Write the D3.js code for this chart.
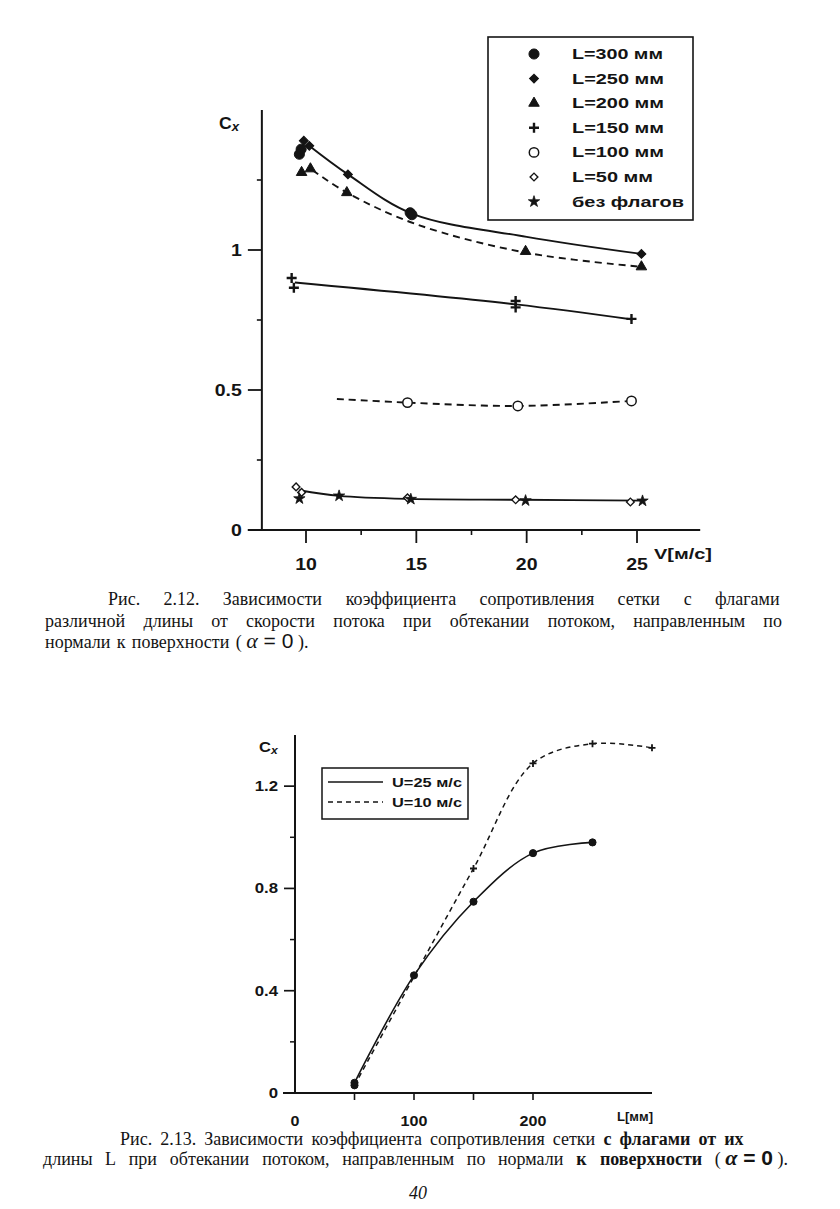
<!DOCTYPE html>
<html><head><meta charset="utf-8">
<script src="https://cdn.jsdelivr.net/npm/d3@7"></script>
<style>html,body{margin:0;padding:0;background:#fff;}svg{display:block;}</style>
</head><body>
<script>
// ---------- data: Fig 2.12 (Cx vs V) ----------
const V_TICKS = [10, 15, 20, 25];
const V_TICK_LABELS = ["10", "15", "20", "25"];
const V_MINOR = [12.5, 17.5, 22.5];
const CX_TICKS = [0, 0.5, 1];
const CX_TICK_LABELS = ["0", "0.5", "1"];
const CX_MINOR = [0.25, 0.75, 1.25];
const LEGEND1 = ["L=300 мм", "L=250 мм", "L=200 мм", "L=150 мм", "L=100 мм", "L=50 мм", "без флагов"];
const L300 = [[9.7, 1.342], [9.78, 1.36], [14.72, 1.133], [14.8, 1.126]];
const L250 = [[9.9, 1.39], [10.15, 1.372], [11.9, 1.27], [25.2, 0.986]];
const L200 = [[9.8, 1.277], [10.2, 1.29], [11.85, 1.205], [19.95, 0.995], [25.2, 0.94]];
const L150 = [[9.35, 0.9], [9.45, 0.865], [19.5, 0.818], [19.5, 0.795], [24.75, 0.754]];
const L100 = [[14.6, 0.455], [19.6, 0.443], [24.75, 0.461]];
const L50 = [[9.55, 0.154], [9.8, 0.134], [14.6, 0.115], [19.5, 0.108], [24.7, 0.1]];
const NOFLAG = [[9.7, 0.112], [11.5, 0.122], [14.75, 0.11], [19.95, 0.105], [25.25, 0.104]];
const CURVE_A = [[10.1, 1.375], [11.9, 1.27], [14.8, 1.13], [20, 1.047], [25.2, 0.986]];
const CURVE_B = [[10.3, 1.285], [11.85, 1.205], [15, 1.092], [20, 0.99], [25.2, 0.94]];
const CURVE_C = [[9.5, 0.884], [19.5, 0.806], [24.8, 0.752]];
const CURVE_D = [[11.4, 0.468], [14.6, 0.455], [19.6, 0.443], [24.75, 0.461]];
const CURVE_E = [[9.7, 0.142], [11.5, 0.122], [14.7, 0.111], [19.7, 0.108], [25.3, 0.105]];

// ---------- data: Fig 2.13 (Cx vs L) ----------
const L_MM = [50, 100, 150, 200, 250, 300];
const U25 = [0.04, 0.46, 0.748, 0.938, 0.98];
const U10 = [0.03, 0.455, 0.878, 1.289, 1.366, 1.35];
const LX_TICKS = [0, 100, 200];
const LX_TICK_LABELS = ["0", "100", "200"];
const LX_ALL_TICKS = [50, 100, 150, 200];
const CY_TICKS = [0, 0.4, 0.8, 1.2];
const CY_TICK_LABELS = ["0", "0.4", "0.8", "1.2"];
const CY_MINOR = [0.2, 0.6, 1.0];
const LEGEND2 = ["U=25 м/с", "U=10 м/с"];

const SANS = "'Liberation Sans', Arial, Helvetica, sans-serif";
const SERIF = "'Liberation Serif', 'Times New Roman', serif";
const INK = "#141414";

const svg = d3.select("body").append("svg").attr("width", 840).attr("height", 1209);
svg.append("rect").attr("width", 840).attr("height", 1209).attr("fill", "#fff");

function stxt(g, x, y, str, size, anchor, sx, width) {
  const t = g.append("text")
    .attr("transform", `translate(${x},${y}) scale(${sx},1)`)
    .attr("text-anchor", anchor)
    .attr("font-family", SANS).attr("font-weight", "bold")
    .attr("font-size", size).attr("fill", INK).text(str);
  if (width) t.attr("textLength", width / sx).attr("lengthAdjust", "spacingAndGlyphs");
  return t;
}

function sym(g, type, size, cx, cy, filled, sw, rot) {
  return g.append("path")
    .attr("d", d3.symbol().type(type).size(size)())
    .attr("transform", `translate(${cx},${cy}) rotate(${rot || 0})`)
    .attr("fill", filled ? INK : "#fff")
    .attr("stroke", INK).attr("stroke-width", sw || 1.3);
}
function diamond(g, size, cx, cy, filled, sw) { return sym(g, d3.symbolSquare, size, cx, cy, filled, sw, 45); }
function plus(g, cx, cy, half, sw) {
  g.append("path").attr("d", `M${cx - half},${cy}H${cx + half}M${cx},${cy - half}V${cy + half}`)
    .attr("stroke", INK).attr("stroke-width", sw).attr("fill", "none");
}

// =============== Chart 1 ===============
const g1 = svg.append("g");
const x1 = d3.scaleLinear().domain([10, 25]).range([306, 637]);
const y1 = d3.scaleLinear().domain([0, 1.5]).range([530, 110]);

g1.append("line").attr("x1", x1(8)).attr("x2", x1(8)).attr("y1", y1(1.5)).attr("y2", y1(0))
  .attr("stroke", INK).attr("stroke-width", 2);
g1.append("line").attr("x1", x1(8) - 14).attr("x2", x1(28) - 3).attr("y1", y1(0)).attr("y2", y1(0))
  .attr("stroke", INK).attr("stroke-width", 2);
CX_TICKS.forEach((v, i) => {
  g1.append("line").attr("x1", x1(8) - 14).attr("x2", x1(8)).attr("y1", y1(v)).attr("y2", y1(v))
    .attr("stroke", INK).attr("stroke-width", 1.8);
  stxt(g1, x1(8) - 20, y1(v) + 6, CX_TICK_LABELS[i], 16, "end", 1.22);
});
CX_MINOR.forEach(v => {
  g1.append("line").attr("x1", x1(8) - 5).attr("x2", x1(8)).attr("y1", y1(v)).attr("y2", y1(v))
    .attr("stroke", INK).attr("stroke-width", 1.6);
});
V_TICKS.forEach((v, i) => {
  g1.append("line").attr("x1", x1(v)).attr("x2", x1(v)).attr("y1", y1(0)).attr("y2", y1(0) + 13)
    .attr("stroke", INK).attr("stroke-width", 1.8);
  stxt(g1, x1(v), 570, V_TICK_LABELS[i], 16, "middle", 1.22);
});
V_MINOR.forEach(v => {
  g1.append("line").attr("x1", x1(v)).attr("x2", x1(v)).attr("y1", y1(0)).attr("y2", y1(0) + 5)
    .attr("stroke", INK).attr("stroke-width", 1.6);
});
stxt(g1, 654, 559, "V[м/с]", 14, "start", 1, 58);
const cx1 = g1.append("text").attr("transform", "translate(219,129) scale(1.1,1)")
  .attr("font-family", SANS).attr("font-weight", "bold").attr("font-size", 16).attr("fill", INK);
cx1.append("tspan").text("C");
cx1.append("tspan").attr("font-size", 12).attr("font-style", "italic").attr("dy", 2).text("x");

const line1 = d3.line().x(d => x1(d[0])).y(d => y1(d[1])).curve(d3.curveCatmullRom.alpha(0.5));
[[CURVE_A, null], [CURVE_B, "7,5"], [CURVE_C, null], [CURVE_D, "7,5"], [CURVE_E, null]].forEach(([data, dash]) => {
  g1.append("path").attr("d", line1(data)).attr("fill", "none").attr("stroke", INK)
    .attr("stroke-width", 1.9).attr("stroke-dasharray", dash);
});

L300.forEach(d => sym(g1, d3.symbolCircle, 80, x1(d[0]), y1(d[1]), true, 1));
L250.forEach(d => diamond(g1, 40, x1(d[0]), y1(d[1]), true, 1));
L200.forEach(d => sym(g1, d3.symbolTriangle, 48, x1(d[0]), y1(d[1]), true, 1));
L150.forEach(d => plus(g1, x1(d[0]), y1(d[1]), 5, 2.4));
L100.forEach(d => sym(g1, d3.symbolCircle, 70, x1(d[0]), y1(d[1]), false, 1.5));
L50.forEach(d => diamond(g1, 30, x1(d[0]), y1(d[1]), false, 1.4));
NOFLAG.forEach(d => sym(g1, d3.symbolStar, 40, x1(d[0]), y1(d[1]), true, 0.8));

// legend 1
g1.append("rect").attr("x", 488).attr("y", 37).attr("width", 205).attr("height", 183)
  .attr("fill", "#fff").attr("stroke", INK).attr("stroke-width", 1.6);
const LEG1_W = [91, 92, 92, 92, 92, 81, 112];
LEGEND1.forEach((lab, i) => {
  const cy = 54 + i * 24.6, cx = 534;
  if (i === 0) sym(g1, d3.symbolCircle, 80, cx, cy, true, 1);
  if (i === 1) diamond(g1, 40, cx, cy, true, 1);
  if (i === 2) sym(g1, d3.symbolTriangle, 48, cx, cy, true, 1);
  if (i === 3) plus(g1, cx, cy, 5, 2.4);
  if (i === 4) sym(g1, d3.symbolCircle, 70, cx, cy, false, 1.5);
  if (i === 5) diamond(g1, 30, cx, cy, false, 1.4);
  if (i === 6) sym(g1, d3.symbolStar, 40, cx, cy, true, 0.8);
  stxt(g1, 572, cy + 5, lab, 14, "start", 1, LEG1_W[i]);
});

// =============== Chart 2 ===============
const g2 = svg.append("g");
const x2 = d3.scaleLinear().domain([0, 300]).range([295, 652]);
const y2 = d3.scaleLinear().domain([0, 1.4]).range([1093, 735]);

g2.append("line").attr("x1", x2(0)).attr("x2", x2(0)).attr("y1", y2(1.4)).attr("y2", y2(0))
  .attr("stroke", INK).attr("stroke-width", 2);
g2.append("line").attr("x1", x2(0) - 12).attr("x2", x2(300)).attr("y1", y2(0)).attr("y2", y2(0))
  .attr("stroke", INK).attr("stroke-width", 2);
CY_TICKS.forEach((v, i) => {
  g2.append("line").attr("x1", x2(0) - 11).attr("x2", x2(0)).attr("y1", y2(v)).attr("y2", y2(v))
    .attr("stroke", INK).attr("stroke-width", 1.7);
  stxt(g2, x2(0) - 17, y2(v) + 5, CY_TICK_LABELS[i], 14, "end", 1.2);
});
CY_MINOR.forEach(v => {
  g2.append("line").attr("x1", x2(0) - 5).attr("x2", x2(0)).attr("y1", y2(v)).attr("y2", y2(v))
    .attr("stroke", INK).attr("stroke-width", 1.5);
});
LX_ALL_TICKS.forEach(v => {
  g2.append("line").attr("x1", x2(v)).attr("x2", x2(v)).attr("y1", y2(0)).attr("y2", y2(0) + 7)
    .attr("stroke", INK).attr("stroke-width", 1.6);
});
LX_TICKS.forEach((v, i) => stxt(g2, x2(v), 1126, LX_TICK_LABELS[i], 14, "middle", 1.15));
stxt(g2, 617, 1121, "L[мм]", 13, "start", 1, 36);
const cx2 = g2.append("text").attr("transform", "translate(259,752) scale(1.1,1)")
  .attr("font-family", SANS).attr("font-weight", "bold").attr("font-size", 15).attr("fill", INK);
cx2.append("tspan").text("C");
cx2.append("tspan").attr("font-size", 11).attr("font-style", "italic").attr("dy", 2).text("x");

const line2 = d3.line().x(d => x2(d[0])).y(d => y2(d[1])).curve(d3.curveCatmullRom.alpha(0.5));
const s25 = U25.map((v, i) => [L_MM[i], v]);
const s10 = U10.map((v, i) => [L_MM[i], v]);
g2.append("path").attr("d", line2(s10)).attr("fill", "none").attr("stroke", INK)
  .attr("stroke-width", 1.5).attr("stroke-dasharray", "5,4");
g2.append("path").attr("d", line2(s25)).attr("fill", "none").attr("stroke", INK)
  .attr("stroke-width", 1.6);
s10.forEach((d, i) => {
  if (i === 0) sym(g2, d3.symbolCircle, 40, x2(d[0]), y2(d[1]), true, 1);
  else if (i >= 2) plus(g2, x2(d[0]), y2(d[1]), 3.5, 1.8);
});
s25.forEach(d => sym(g2, d3.symbolCircle, 40, x2(d[0]), y2(d[1]), true, 1));

g2.append("rect").attr("x", 322).attr("y", 768).attr("width", 146).attr("height", 51)
  .attr("fill", "#fff").attr("stroke", INK).attr("stroke-width", 1.5);
LEGEND2.forEach((lab, i) => {
  const yy = 782 + i * 20;
  g2.append("line").attr("x1", 328).attr("x2", 383).attr("y1", yy).attr("y2", yy)
    .attr("stroke", INK).attr("stroke-width", 1.5).attr("stroke-dasharray", i ? "5,4" : null);
  stxt(g2, 392, yy + 5, lab, 13, "start", 1, 70);
});

// =============== Captions ===============
const CAP_SIZE = 18;
const capG = svg.append("g");

function placeLine(tokens, xStart, xEnd, y, gapPx) {
  const nodes = tokens.map(tok => {
    const t = capG.append("text").attr("y", y).attr("font-family", SERIF).attr("font-size", CAP_SIZE).attr("fill", INK);
    (Array.isArray(tok) ? tok : [tok]).forEach(p => {
      const s = typeof p === "string" ? { t: p } : p;
      const sp = t.append("tspan").text(s.t);
      if (s.b) sp.attr("font-weight", "bold");
      if (s.i) sp.attr("font-style", "italic");
      if (s.fs) sp.attr("font-size", s.fs);
      if (s.ff) sp.attr("font-family", s.ff);
    });
    return t;
  });
  const widths = nodes.map(n => n.node().getBBox().width);
  const total = d3.sum(widths);
  const gap = xEnd == null ? gapPx : (xEnd - xStart - total) / (tokens.length - 1);
  let x = xStart;
  nodes.forEach((n, i) => { n.attr("x", x); x += widths[i] + gap; });
}
const ALPHA1 = ["( ", { t: "α", i: true, fs: 22 }, { t: " = 0", fs: 21, ff: SANS }, " )."];
const ALPHA2 = ["( ", { t: "α", i: true, fs: 22, b: true }, { t: " = 0", fs: 21, ff: SANS, b: true }, " )."];
placeLine("Рис. 2.12. Зависимости коэффициента сопротивления сетки с флагами".split(" "), 108, 780, 605);
placeLine("различной длины от скорости потока при обтекании потоком, направленным по".split(" "), 45, 782, 627);
placeLine(["нормали", "к", "поверхности", ALPHA1], 45, null, 648, 6);

const cap2a = ["Рис.", "2.13.", "Зависимости", "коэффициента", "сопротивления", "сетки",
  { t: "с", b: true }, { t: "флагами", b: true }, { t: "от", b: true }, { t: "их", b: true }];
placeLine(cap2a, 120, null, 1145, 8);
const cap2b = "длины L при обтекании потоком, направленным по нормали".split(" ")
  .concat([{ t: "к", b: true }, { t: "поверхности", b: true }, ALPHA2]);
placeLine(cap2b, 43, 788, 1165);

svg.append("text").attr("x", 418).attr("y", 1199).attr("text-anchor", "middle")
  .attr("font-family", SERIF).attr("font-style", "italic").attr("font-size", 18).attr("fill", INK).text("40");
</script>
</body></html>
